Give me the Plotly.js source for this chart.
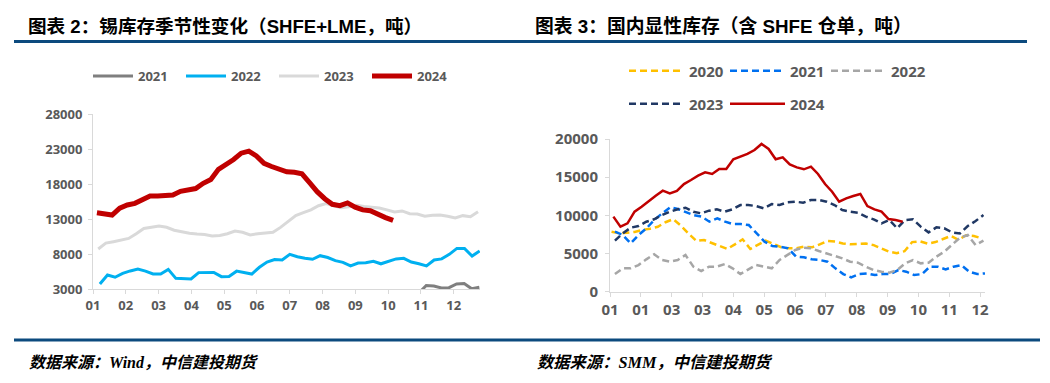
<!DOCTYPE html>
<html>
<head>
<meta charset="utf-8">
<script src="https://cdn.plot.ly/plotly-3.0.1.min.js"></script>
<style>
html,body{margin:0;padding:0;background:#fff;}
#chart{width:1050px;height:383px;}
</style>
</head>
<body>
<div id="chart"></div>
<script>
// ---------- DATA ----------
// Left chart: tin inventory seasonality (SHFE+LME, tonnes), weekly
const leftMonths = ['01','02','03','04','05','06','07','08','09','10','11','12'];
const leftYears = ['2021','2022','2023','2024'];
// first/last week position (in months from Jan) of each series
const leftSpan = {
  '2021': [9.93, 11.78],
  '2022': [0.21, 11.79],
  '2023': [0.16, 11.74],
  '2024': [0.12, 9.15]
};
const tin2021 = [2400, 3500, 3420, 3150, 3190, 3720, 3780, 3030, 3240];
const tin2022 = [3710, 5000, 4680, 5240, 5580, 5840, 5560, 5140, 5150, 5800,
                 4520, 4430, 4440, 5340, 5380, 5370, 4760, 4800, 5550, 5330,
                 5140, 6100, 6850, 7200, 7150, 7950, 7600, 7400, 7240, 7760,
                 7500, 7050, 6800, 6300, 6700, 6760, 6950, 6600, 7000, 7300,
                 7380, 6850, 6600, 6290, 7150, 7300, 7950, 8800, 8800, 7700, 8430];
const tin2023 = [8710, 9550, 9760, 9980, 10220, 10900, 11650, 11810, 11980, 11820,
                 11400, 11180, 10960, 10860, 10790, 10570, 10650, 10900, 11270, 11100,
                 10730, 10880, 10950, 11100, 11800, 12700, 13500, 13900, 14300, 14900,
                 15200, 14900, 14600, 14760, 14950, 14800, 14700, 14570, 14300, 14000,
                 14150, 13750, 13710, 13400, 13550, 13570, 13400, 13150, 13480, 13330, 14050];
const tin2024 = [13900, 13700, 13570, 14550, 15000, 15240, 15710, 16290, 16290, 16400,
                 16430, 16950, 17140, 17350, 18100, 18650, 20100, 20750, 21500, 22400,
                 22700, 22000, 20950, 20500, 20050, 19750, 19670, 19450, 18200, 16900,
                 15900, 15100, 14900, 15300, 14700, 14300, 14190, 13600, 13200, 12800];
const leftTicks = [3000, 8000, 13000, 18000, 23000, 28000];

// Right chart: domestic visible inventory (incl. SHFE warrants, tonnes)
const rightTickText = ['01','01','03','03','04','05','06','07','08','09','10','11','12'];
const rightYears = ['2020','2021','2022','2023','2024'];
const rightSpan = {
  '2020': [0.05, 12.05],
  '2021': [0.16, 12.16],
  '2022': [0.16, 12.11],
  '2023': [0.16, 12.11],
  '2024': [0.11, 9.49]
};
const inv2020 = [7860, 7650, 7720, 7830, 8100, 8250, 8500, 9100, 9500, 8650,
                 7600, 6650, 6770, 6350, 5950, 5600, 6200, 6860, 5600, 6100,
                 6700, 6250, 5820, 5680, 5700, 5900, 5810, 6200, 6650, 6580,
                 6320, 6200, 6280, 6300, 6100, 5700, 5250, 5050, 5300, 6500,
                 6600, 6300, 6500, 6900, 7300, 6800, 7400, 7300, 7000];
const inv2021 = [7860, 7420, 6330, 7420, 8300, 9390, 10260, 11050, 10830, 10480,
                 10040, 9830, 9170, 9610, 9170, 8860, 8860, 8730, 7640, 6550,
                 5980, 5900, 5680, 4590, 4500, 4240, 4150, 3930, 3060, 2310,
                 1880, 2310, 2400, 2180, 2310, 2310, 2840, 2620, 2180, 2310,
                 3280, 3280, 2930, 3280, 3490, 2620, 2310, 2400];
const inv2022 = [2310, 3060, 3060, 3490, 4240, 4890, 4150, 3930, 4150, 4800,
                 3280, 2710, 3280, 3280, 3620, 3060, 2310, 2930, 3490, 3280,
                 3060, 4150, 4800, 5460, 5760, 5680, 5330, 5020, 4670, 4370,
                 3930, 3800, 3280, 2840, 2620, 2490, 2840, 3710, 4150, 3710,
                 3800, 4590, 5240, 6110, 7070, 7420, 6110, 6680];
const inv2023 = [6680, 7640, 8380, 8600, 9170, 9480, 10040, 10480, 10790, 11000,
                 10480, 10260, 10610, 10790, 10480, 10790, 11350, 11350, 11220, 10920,
                 11480, 11350, 11700, 11790, 11660, 12010, 12010, 11790, 11350, 10700,
                 10480, 10350, 9830, 9480, 8950, 9390, 8300, 9390, 9480, 8520,
                 7770, 8430, 8300, 7770, 7640, 8600, 9260, 10040];
const inv2024 = [9830, 8520, 8950, 10480, 11140, 11880, 12580, 13230, 12880, 13190,
                 14100, 14630, 15200, 15630, 15420, 16070, 16070, 17340, 17690, 18040,
                 18560, 19350, 18690, 17340, 17600, 16680, 16290, 16030, 16380, 15420,
                 14100, 13100, 11790, 12230, 12530, 12800, 11220, 10790, 10480, 9520,
                 9390, 9170];
const rightTicks = [0, 5000, 10000, 15000, 20000];

// ---------- helpers ----------
const W = 1050, H = 383;
const px = x => x / W;
const py = y => 1 - y / H;
function weekly(values, span) {
  const n = values.length, s = span[0], e = span[1];
  return values.map((_, i) => s + i * (e - s) / (n - 1));
}

// ---------- traces ----------
const leftData = {'2021': tin2021, '2022': tin2022, '2023': tin2023, '2024': tin2024};
const leftStyle = {
  '2021': {color: '#7F7F7F', width: 3},
  '2022': {color: '#00B0F0', width: 3},
  '2023': {color: '#D9D9D9', width: 3},
  '2024': {color: '#C00000', width: 5}
};
const rightData = {'2020': inv2020, '2021': inv2021, '2022': inv2022, '2023': inv2023, '2024': inv2024};
const rightStyle = {
  '2020': {color: '#FFC000', width: 2.5, dash: '7px,4px'},
  '2021': {color: '#0070F0', width: 2.5, dash: '7px,4px'},
  '2022': {color: '#A6A6A6', width: 2.5, dash: '7px,4px'},
  '2023': {color: '#203864', width: 2.5, dash: '7px,4px'},
  '2024': {color: '#C00000', width: 2.5}
};

const traces = [];
leftYears.forEach(yr => {
  traces.push({
    type: 'scatter', mode: 'lines', name: yr,
    x: weekly(leftData[yr], leftSpan[yr]), y: leftData[yr],
    xaxis: 'x', yaxis: 'y', legend: 'legend',
    line: leftStyle[yr], hoverinfo: 'skip'
  });
});
rightYears.forEach(yr => {
  traces.push({
    type: 'scatter', mode: 'lines', name: yr,
    x: weekly(rightData[yr], rightSpan[yr]), y: rightData[yr],
    xaxis: 'x2', yaxis: 'y2',
    legend: (yr === '2023' || yr === '2024') ? 'legend3' : 'legend2',
    line: rightStyle[yr], hoverinfo: 'skip'
  });
});

// ---------- layout ----------
const axisGray = '#D9D9D9';
const labelGray = '#595959';
function tickFont(size) {
  return {family: 'Open Sans, Noto Sans, sans-serif', size: size, color: labelGray, weight: 700};
}
function axisBase(size) {
  return {
    showline: true, linecolor: axisGray, linewidth: 1,
    ticks: 'outside', ticklen: 4, tickcolor: axisGray, tickwidth: 1,
    showgrid: false, zeroline: false, fixedrange: true,
    tickfont: tickFont(size)
  };
}
function legendBase(x, y, size, itemw, entryw) {
  return {
    orientation: 'h', x: px(x), xanchor: 'left', y: py(y), yanchor: 'middle',
    itemwidth: itemw, entrywidth: entryw, entrywidthmode: 'pixels',
    font: {family: 'Open Sans, Noto Sans, sans-serif', size: size, color: labelGray, weight: 700},
    bgcolor: 'rgba(0,0,0,0)', borderwidth: 0, itemclick: false, itemdoubleclick: false,
    tracegroupgap: 0
  };
}

const titleFont = {family: 'Liberation Sans, Noto Sans CJK SC, sans-serif', size: 18.6, color: '#000000', weight: 700};
const titleFont2 = Object.assign({}, titleFont, {size: 18.8});
const sourceFont = {family: 'Liberation Serif, Noto Sans CJK SC, serif', size: 16, color: '#000000', weight: 700, style: 'italic'};
const sourceFont2 = Object.assign({}, sourceFont, {size: 16.3});
const ruleColor = '#0C4A7E';

const layout = {
  width: W, height: H,
  margin: {l: 0, r: 0, t: 0, b: 0, pad: 0},
  paper_bgcolor: '#FFFFFF', plot_bgcolor: 'rgba(0,0,0,0)',
  showlegend: true,
  xaxis: Object.assign(axisBase(13), {
    domain: [px(93), px(480)], range: [0, 11.8], anchor: 'y',
    tickmode: 'array', tickvals: leftMonths.map((_, i) => i), ticktext: leftMonths
  }),
  yaxis: Object.assign(axisBase(13), {
    domain: [py(289), py(114)], range: [3000, 28000], anchor: 'x',
    tickmode: 'array', tickvals: leftTicks, ticktext: leftTicks.map(String),
    ticklabelstandoff: 3
  }),
  xaxis2: Object.assign(axisBase(15), {
    domain: [px(610), px(985)], range: [0, 12.16], anchor: 'y2',
    tickmode: 'array', tickvals: rightTickText.map((_, i) => i), ticktext: rightTickText
  }),
  yaxis2: Object.assign(axisBase(15), {
    domain: [py(291.7), py(139)], range: [0, 20000], anchor: 'x2',
    tickmode: 'array', tickvals: rightTicks, ticktext: rightTicks.map(String),
    ticklabelstandoff: 4
  }),
  legend: legendBase(88, 76, 13, 40, 38),
  legend2: legendBase(624, 71, 15, 55, 31),
  legend3: legendBase(624, 104, 15, 55, 31),
  shapes: [
    {type: 'line', xref: 'paper', yref: 'paper', x0: px(14), x1: px(1027), y0: py(41.5), y1: py(41.5),
     line: {color: ruleColor, width: 3}},
    {type: 'line', xref: 'paper', yref: 'paper', x0: px(14), x1: px(1040), y0: py(340), y1: py(340),
     line: {color: ruleColor, width: 3}}
  ],
  annotations: [
    {xref: 'paper', yref: 'paper', x: px(26), y: py(26), xanchor: 'left', yanchor: 'middle',
     text: '图表 2：锡库存季节性变化（SHFE+LME，吨）', showarrow: false, font: titleFont},
    {xref: 'paper', yref: 'paper', x: px(533), y: py(26), xanchor: 'left', yanchor: 'middle',
     text: '图表 3：国内显性库存（含 SHFE 仓单，吨）', showarrow: false, font: titleFont2},
    {xref: 'paper', yref: 'paper', x: px(27), y: py(362), xanchor: 'left', yanchor: 'middle',
     text: '数据来源：Wind，中信建投期货', showarrow: false, font: sourceFont},
    {xref: 'paper', yref: 'paper', x: px(535), y: py(362), xanchor: 'left', yanchor: 'middle',
     text: '数据来源：SMM，中信建投期货', showarrow: false, font: sourceFont2}
  ]
};

Plotly.newPlot('chart', traces, layout, {staticPlot: true, displayModeBar: false});
</script>
</body>
</html>
